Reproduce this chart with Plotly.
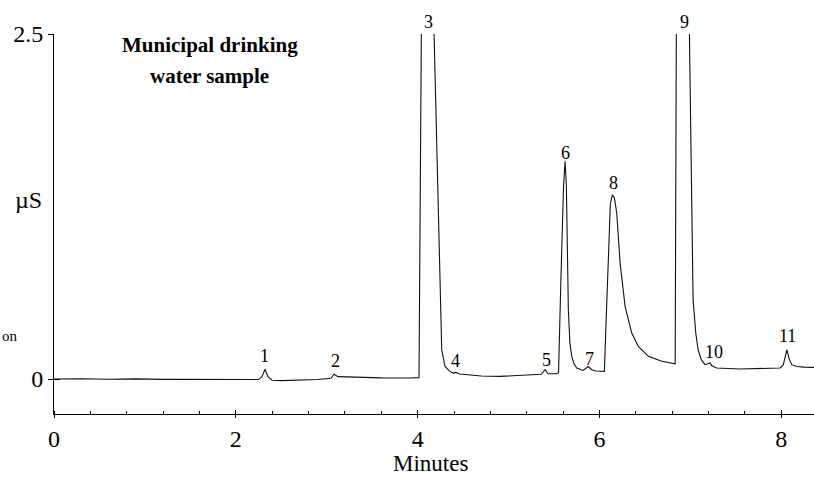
import plotly.graph_objects as go

# ---- data ----
time_min = [0.0, 0.3, 0.6, 0.9, 1.2, 1.5, 1.8, 2.1, 2.25, 2.288, 2.321, 2.354, 2.398,
            2.5, 2.7, 2.9, 3.047, 3.08, 3.124, 3.3, 3.6, 3.9, 4.015, 4.05, 4.10, 4.155,
            4.246, 4.265, 4.301, 4.356, 4.393, 4.42, 4.46, 4.54, 4.7, 4.906, 5.1, 5.269,
            5.36, 5.402, 5.434, 5.53, 5.55, 5.575, 5.605, 5.622, 5.636, 5.658, 5.675,
            5.695, 5.72, 5.75, 5.82, 5.877, 5.914, 5.96, 6.054, 6.075, 6.098, 6.12,
            6.142, 6.165, 6.19, 6.227, 6.282, 6.355, 6.428, 6.538, 6.685, 6.813, 6.833,
            6.85, 6.92, 6.975, 7.03, 7.06, 7.085, 7.12, 7.162, 7.217, 7.235, 7.29, 7.547,
            7.987, 8.023, 8.061, 8.09, 8.116, 8.171, 8.25, 8.36]
signal_uS = [0.0, 0.002, -0.002, 0.001, -0.003, -0.002, -0.004, -0.003, -0.004, 0.017,
             0.071, 0.017, -0.009, -0.012, -0.01, -0.004, 0.005, 0.035, 0.017, 0.012,
             0.008, 0.007, 0.01, 3.4, 3.8, 3.2, 0.575, 0.212, 0.091, 0.055, 0.043, 0.048,
             0.036, 0.031, 0.022, 0.019, 0.024, 0.031, 0.034, 0.067, 0.038, 0.038, 0.045,
             0.70, 1.40, 1.577, 1.40, 0.50, 0.26, 0.164, 0.11, 0.08, 0.062, 0.09, 0.067,
             0.058, 0.055, 0.45, 0.961, 1.27, 1.335, 1.31, 1.203, 0.841, 0.526, 0.333,
             0.236, 0.164, 0.128, 0.109, 0.11, 3.4, 3.8, 3.2, 0.575, 0.33, 0.212, 0.14,
             0.104, 0.116, 0.096, 0.08, 0.072, 0.08, 0.104, 0.212, 0.14, 0.104, 0.091,
             0.086, 0.084]

peak_labels = ["1", "2", "4", "5", "6", "7", "8", "10", "11"]
peak_label_t = [2.312, 3.091, 4.417, 5.416, 5.622, 5.885, 6.153, 7.260, 8.067]
peak_label_v = [0.164, 0.128, 0.133, 0.14, 1.638, 0.145, 1.420, 0.199, 0.309]
# off-scale peaks (labels above the top of the axis)
top_labels = ["3", "9"]
top_label_t = [4.118, 6.93]

x_ticks = [0, 2, 4, 6, 8]
y_ticks = [0, 2.5]
y_ticktext = ["0", "2.5"]
x_range = [0, 8.36]
y_range = [-0.2536, 2.5]

SERIF = "Liberation Serif, Times New Roman, serif"

fig = go.Figure()
fig.add_trace(go.Scatter(x=time_min, y=signal_uS, mode="lines",
                         line=dict(color="#111111", width=1.1, shape="linear"),
                         hoverinfo="skip", showlegend=False))
# invisible trace to host the overlay axes (crossing tick halves)
fig.add_trace(go.Scatter(x=[x_range[0]], y=[y_range[0]], xaxis="x2", yaxis="y2",
                         mode="markers", marker=dict(opacity=0), showlegend=False,
                         hoverinfo="skip"))

annotations = []
for txt, t, v in zip(peak_labels, peak_label_t, peak_label_v):
    annotations.append(dict(x=t, y=v, xref="x", yref="y", text=txt, showarrow=False,
                            font=dict(family=SERIF, size=18, color="black"),
                            xanchor="center", yanchor="middle"))
for txt, t in zip(top_labels, top_label_t):
    annotations.append(dict(x=t, y=1.032, xref="x", yref="paper", text=txt,
                            showarrow=False,
                            font=dict(family=SERIF, size=18, color="black"),
                            xanchor="center", yanchor="middle"))

annotations += [
    dict(x=0.205, y=0.971, xref="paper", yref="paper", text="<b>Municipal drinking</b>",
         showarrow=False, font=dict(family=SERIF, size=21, color="black"),
         xanchor="center", yanchor="middle"),
    dict(x=0.205, y=0.890, xref="paper", yref="paper", text="<b>water sample</b>",
         showarrow=False, font=dict(family=SERIF, size=21, color="black"),
         xanchor="center", yanchor="middle"),
    dict(x=-0.0342, y=0.5635, xref="paper", yref="paper", text="µS",
         showarrow=False, font=dict(family=SERIF, size=24, color="black"),
         xanchor="center", yanchor="middle"),
    dict(x=-0.0711, y=0.206, xref="paper", yref="paper", text="on",
         showarrow=False, font=dict(family=SERIF, size=15, color="black"),
         xanchor="left", yanchor="middle"),
    dict(x=0.495, y=-0.129, xref="paper", yref="paper", text="Minutes",
         showarrow=False, font=dict(family=SERIF, size=23, color="black"),
         xanchor="center", yanchor="middle"),
]

fig.update_layout(
    width=814, height=477,
    margin=dict(l=54, r=0, t=34, b=63),
    paper_bgcolor="white", plot_bgcolor="white",
    showlegend=False,
    font=dict(family=SERIF, color="black"),
    xaxis=dict(range=x_range, tickvals=x_ticks, ticks="outside", ticklen=3,
               tickcolor="black", tickwidth=1,
               minor=dict(ticks="inside", ticklen=3, dtick=0.4, tick0=0,
                          tickcolor="black", tickwidth=1),
               showline=True, linecolor="black", linewidth=1,
               showgrid=False, zeroline=False,
               tickfont=dict(family=SERIF, size=24, color="black")),
    yaxis=dict(range=y_range, tickvals=y_ticks, ticktext=y_ticktext,
               ticks="outside", ticklen=5, tickcolor="black", tickwidth=1,
               showline=True, linecolor="black", linewidth=1,
               showgrid=False, zeroline=False,
               tickfont=dict(family=SERIF, size=24, color="black")),
    xaxis2=dict(range=x_range, overlaying="x", anchor="y2", side="bottom",
                tickvals=x_ticks, ticks="inside", ticklen=4, tickcolor="black",
                showticklabels=False, showline=False, showgrid=False, zeroline=False),
    yaxis2=dict(range=y_range, overlaying="y", anchor="x2", side="left",
                tickvals=y_ticks, ticks="inside", ticklen=6, tickcolor="black",
                showticklabels=False, showline=False, showgrid=False, zeroline=False),
    annotations=annotations,
)

fig.write_html("out.html")
